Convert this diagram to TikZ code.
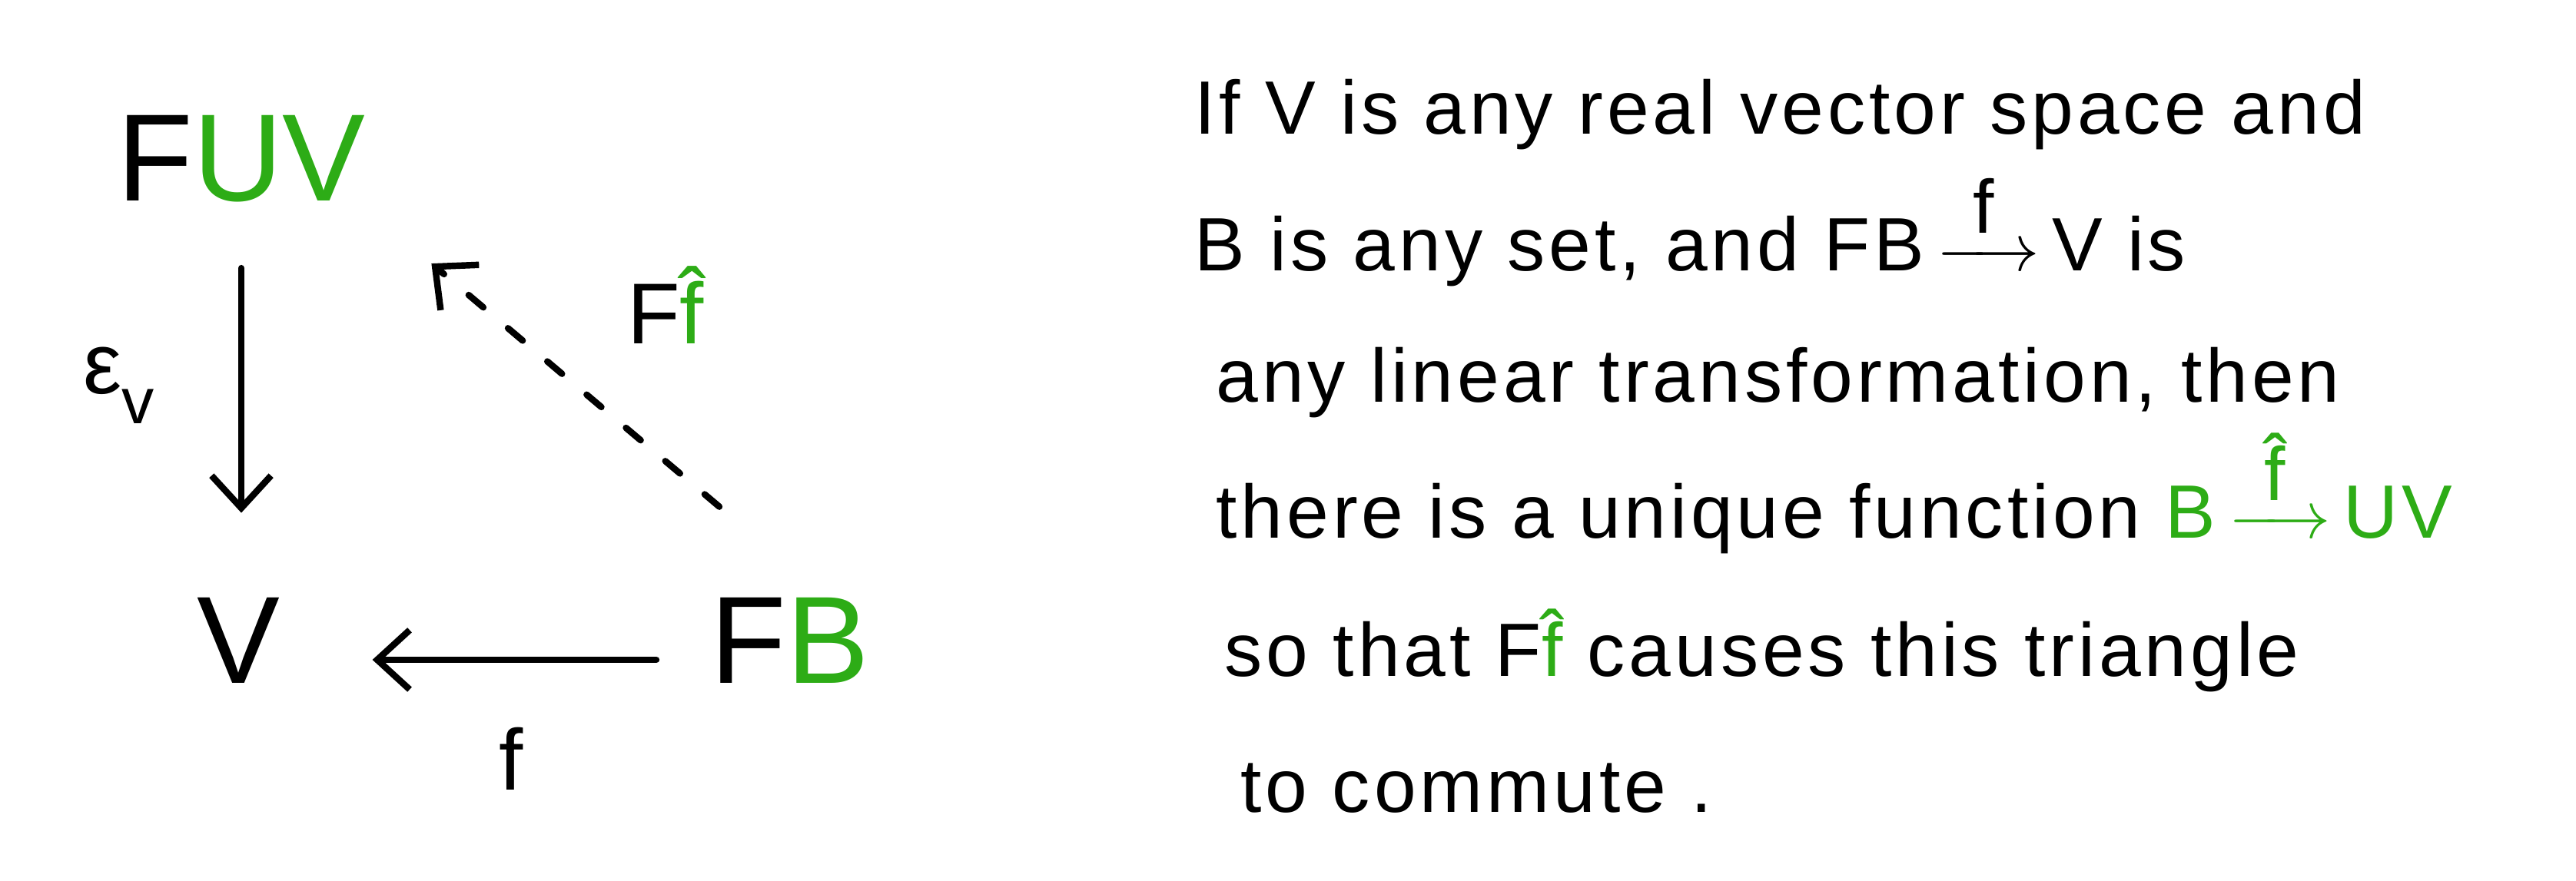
\documentclass[tikz,border=0pt]{standalone}
\usepackage{fontspec}
\usepackage{amsmath}
\setmainfont{Liberation Sans}
\usetikzlibrary{arrows.meta,positioning}
\definecolor{handgreen}{RGB}{45,172,22}
\newcommand{\handmap}[1]{\,$\xrightarrow{\hspace{0.25em}\mbox{#1}\hspace{0.25em}}$\,}

\begin{document}
\begin{tikzpicture}[x=1cm,y=1cm,
    objnode/.style={inner sep=0pt, font=\fontsize{46}{50}\selectfont},
    maplabel/.style={inner sep=0pt, font=\fontsize{32}{36}\selectfont},
    handline/.style={anchor=base west, inner sep=0pt, font=\fontsize{28}{32}\selectfont\addfontfeatures{LetterSpace=5}},
    handarrow/.style={line width=2.4pt, line cap=round, -{Straight Barb[length=12pt,width=22pt]}},
    dasharrow/.style={handarrow, dash pattern=on 0.25cm off 0.42cm}]
    \useasboundingbox (0,0) rectangle (33.52,11.47);

    % the triangle
    \node[objnode] (fuv) at (3.14,9.40) {F\textcolor{handgreen}{UV}};
    \node[objnode] (v) at (3.10,3.13) {V};
    \node[objnode] (fb) at (10.28,3.13) {F\textcolor{handgreen}{B}};

    \draw[handarrow, shorten <=0.85cm, shorten >=1.1cm] (fuv.south) -- (fuv.south |- v.north);
    \draw[handarrow, shorten <=0.7cm, shorten >=1.2cm] ([yshift=-0.25cm]fb.west) -- ([yshift=-0.25cm]v.east);

    \coordinate (ffstart) at ([shift={(0.12,1.18)}]fb.north west);
    \coordinate (ffend) at ([shift={(0.85,-0.79)}]fuv.south east);
    \draw[dasharrow] (ffstart) -- (ffend);

    \node[maplabel] (eps) at (1.55,6.45) {ε\raisebox{-0.35em}{\fontsize{24}{26}\selectfont v}};
    \node[maplabel] (ffhat) at (8.66,7.50) {F\textcolor{handgreen}{\^f}};
    \node[maplabel] (f) at (6.65,1.59) {f};

    % the statement
    \node[handline] (l1) at (15.54,9.72) {If V is any real vector space and};
    \node[handline] (l2) at (15.54,7.94) {B is any set, and FB\handmap{f}V is};
    \node[handline] (l3) at (15.82,6.23) {any linear transformation, then};
    \node[handline] (l4) at (15.82,4.46) {there is a unique function \textcolor{handgreen}{B\handmap{\^f}UV}};
    \node[handline] (l5) at (15.93,2.66) {so that F\textcolor{handgreen}{\^f} causes this triangle};
    \node[handline] (l6) at (16.14,0.89) {to commute .};
\end{tikzpicture}
\end{document}
